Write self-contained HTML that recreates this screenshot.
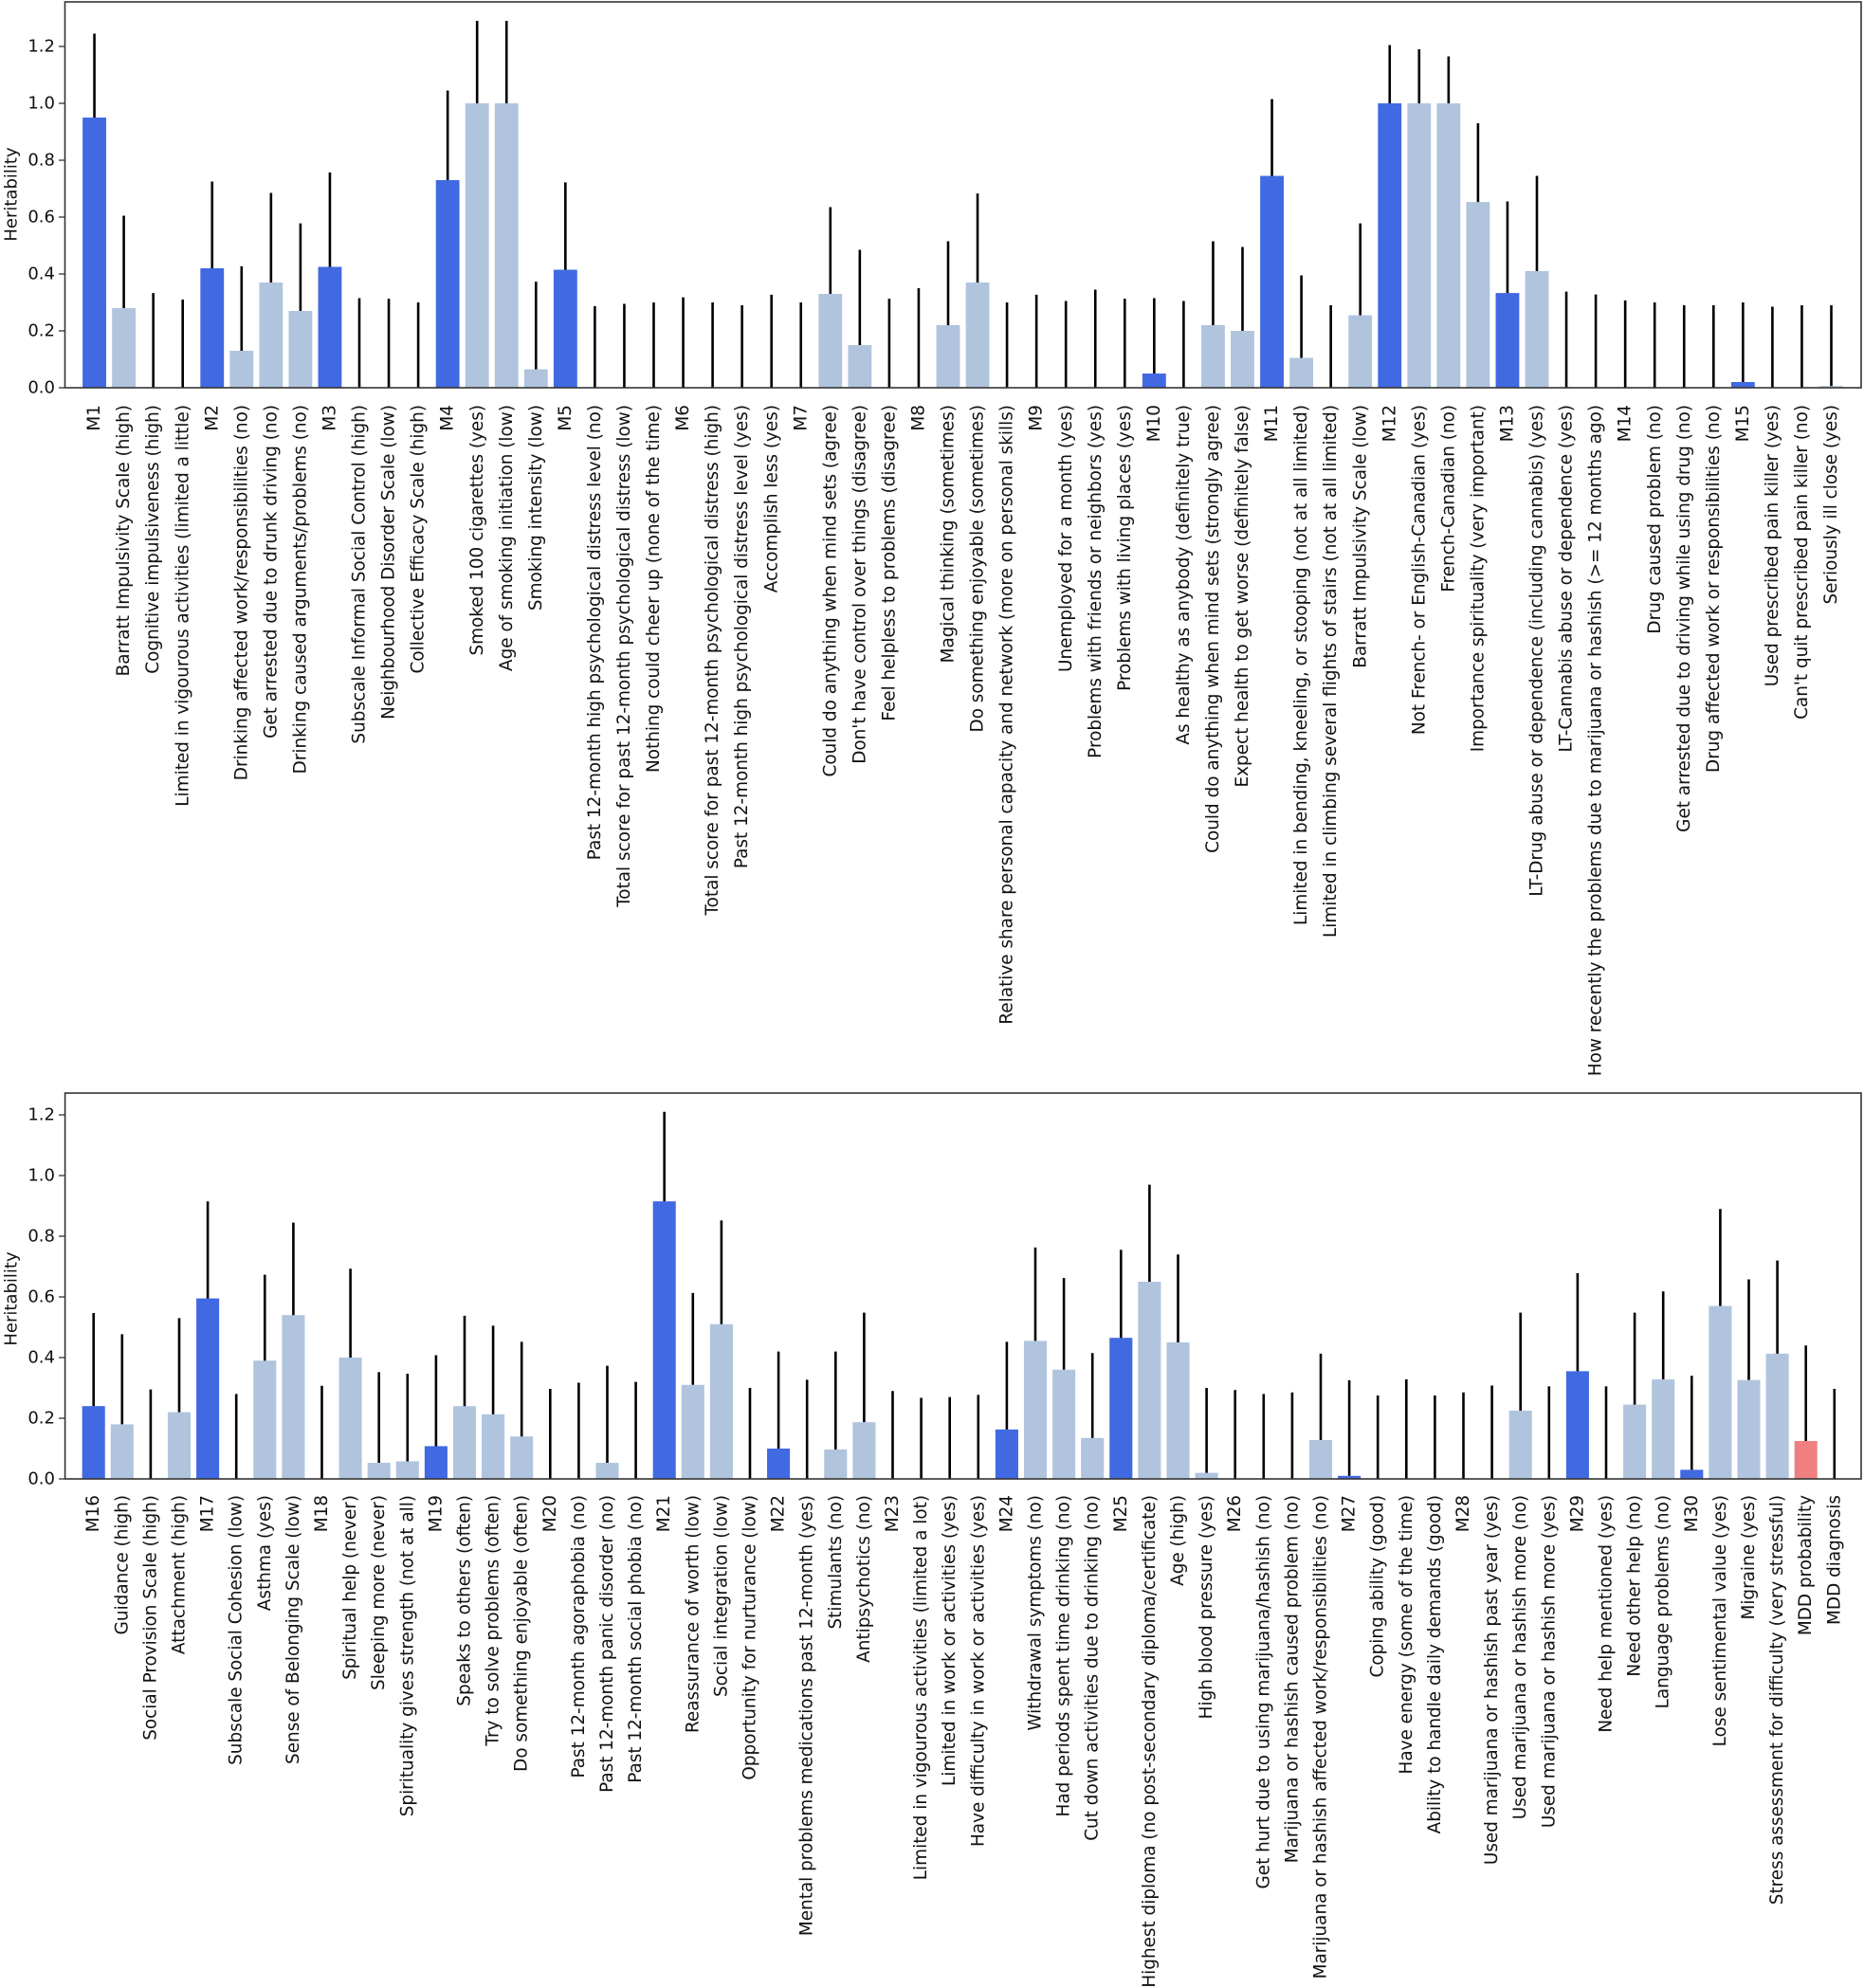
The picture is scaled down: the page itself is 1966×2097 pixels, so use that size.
<!DOCTYPE html>
<html><head><meta charset="utf-8"><style>
html,body{margin:0;padding:0;background:#fff;}
svg{display:block;}
text{font-family:"DejaVu Sans","Liberation Sans",sans-serif;fill:#111;}
.lbl{font-size:18.4px;}
.tk{font-size:18px;}
line.e{stroke:#000;stroke-width:2.6;vector-effect:non-scaling-stroke;}
.d{fill:#4169e1;}.l{fill:#b0c4de;}.r{fill:#f08080;}
</style></head><body>
<svg width="1966" height="2097" viewBox="0 0 1966 2097" xmlns="http://www.w3.org/2000/svg">
<rect width="1966" height="2097" fill="#fff"/>

<!-- ============ TOP PLOT ============ -->
<g transform="translate(68.5,409) scale(31.05,-300)">
<rect class="d" x="0.6" y="0" width="0.8" height="0.95"/>
<rect class="l" x="1.6" y="0" width="0.8" height="0.28"/>
<rect class="d" x="4.6" y="0" width="0.8" height="0.42"/>
<rect class="l" x="5.6" y="0" width="0.8" height="0.13"/>
<rect class="l" x="6.6" y="0" width="0.8" height="0.37"/>
<rect class="l" x="7.6" y="0" width="0.8" height="0.27"/>
<rect class="d" x="8.6" y="0" width="0.8" height="0.425"/>
<rect class="d" x="12.6" y="0" width="0.8" height="0.73"/>
<rect class="l" x="13.6" y="0" width="0.8" height="1.0"/>
<rect class="l" x="14.6" y="0" width="0.8" height="1.0"/>
<rect class="l" x="15.6" y="0" width="0.8" height="0.065"/>
<rect class="d" x="16.6" y="0" width="0.8" height="0.415"/>
<rect class="l" x="25.6" y="0" width="0.8" height="0.33"/>
<rect class="l" x="26.6" y="0" width="0.8" height="0.15"/>
<rect class="l" x="29.6" y="0" width="0.8" height="0.22"/>
<rect class="l" x="30.6" y="0" width="0.8" height="0.37"/>
<rect class="d" x="36.6" y="0" width="0.8" height="0.05"/>
<rect class="l" x="38.6" y="0" width="0.8" height="0.22"/>
<rect class="l" x="39.6" y="0" width="0.8" height="0.20"/>
<rect class="d" x="40.6" y="0" width="0.8" height="0.745"/>
<rect class="l" x="41.6" y="0" width="0.8" height="0.105"/>
<rect class="l" x="43.6" y="0" width="0.8" height="0.255"/>
<rect class="d" x="44.6" y="0" width="0.8" height="1.0"/>
<rect class="l" x="45.6" y="0" width="0.8" height="1.0"/>
<rect class="l" x="46.6" y="0" width="0.8" height="1.0"/>
<rect class="l" x="47.6" y="0" width="0.8" height="0.653"/>
<rect class="d" x="48.6" y="0" width="0.8" height="0.333"/>
<rect class="l" x="49.6" y="0" width="0.8" height="0.41"/>
<rect class="d" x="56.6" y="0" width="0.8" height="0.02"/>
<rect class="l" x="59.6" y="0" width="0.8" height="0.006"/>
<line class="e" x1="1" x2="1" y1="0.95" y2="1.245"/>
<line class="e" x1="2" x2="2" y1="0.28" y2="0.605"/>
<line class="e" x1="3" x2="3" y1="0" y2="0.333"/>
<line class="e" x1="4" x2="4" y1="0" y2="0.31"/>
<line class="e" x1="5" x2="5" y1="0.42" y2="0.725"/>
<line class="e" x1="6" x2="6" y1="0.13" y2="0.427"/>
<line class="e" x1="7" x2="7" y1="0.37" y2="0.685"/>
<line class="e" x1="8" x2="8" y1="0.27" y2="0.578"/>
<line class="e" x1="9" x2="9" y1="0.425" y2="0.757"/>
<line class="e" x1="10" x2="10" y1="0" y2="0.315"/>
<line class="e" x1="11" x2="11" y1="0" y2="0.313"/>
<line class="e" x1="12" x2="12" y1="0" y2="0.30"/>
<line class="e" x1="13" x2="13" y1="0.73" y2="1.045"/>
<line class="e" x1="14" x2="14" y1="1.0" y2="1.29"/>
<line class="e" x1="15" x2="15" y1="1.0" y2="1.29"/>
<line class="e" x1="16" x2="16" y1="0.065" y2="0.373"/>
<line class="e" x1="17" x2="17" y1="0.415" y2="0.722"/>
<line class="e" x1="18" x2="18" y1="0" y2="0.287"/>
<line class="e" x1="19" x2="19" y1="0" y2="0.295"/>
<line class="e" x1="20" x2="20" y1="0" y2="0.30"/>
<line class="e" x1="21" x2="21" y1="0" y2="0.318"/>
<line class="e" x1="22" x2="22" y1="0" y2="0.30"/>
<line class="e" x1="23" x2="23" y1="0" y2="0.29"/>
<line class="e" x1="24" x2="24" y1="0" y2="0.327"/>
<line class="e" x1="25" x2="25" y1="0" y2="0.30"/>
<line class="e" x1="26" x2="26" y1="0.33" y2="0.635"/>
<line class="e" x1="27" x2="27" y1="0.15" y2="0.485"/>
<line class="e" x1="28" x2="28" y1="0" y2="0.313"/>
<line class="e" x1="29" x2="29" y1="0" y2="0.35"/>
<line class="e" x1="30" x2="30" y1="0.22" y2="0.515"/>
<line class="e" x1="31" x2="31" y1="0.37" y2="0.683"/>
<line class="e" x1="32" x2="32" y1="0" y2="0.30"/>
<line class="e" x1="33" x2="33" y1="0" y2="0.327"/>
<line class="e" x1="34" x2="34" y1="0" y2="0.305"/>
<line class="e" x1="35" x2="35" y1="0" y2="0.345"/>
<line class="e" x1="36" x2="36" y1="0" y2="0.313"/>
<line class="e" x1="37" x2="37" y1="0.05" y2="0.315"/>
<line class="e" x1="38" x2="38" y1="0" y2="0.305"/>
<line class="e" x1="39" x2="39" y1="0.22" y2="0.515"/>
<line class="e" x1="40" x2="40" y1="0.20" y2="0.495"/>
<line class="e" x1="41" x2="41" y1="0.745" y2="1.015"/>
<line class="e" x1="42" x2="42" y1="0.105" y2="0.395"/>
<line class="e" x1="43" x2="43" y1="0" y2="0.29"/>
<line class="e" x1="44" x2="44" y1="0.255" y2="0.578"/>
<line class="e" x1="45" x2="45" y1="1.0" y2="1.205"/>
<line class="e" x1="46" x2="46" y1="1.0" y2="1.19"/>
<line class="e" x1="47" x2="47" y1="1.0" y2="1.165"/>
<line class="e" x1="48" x2="48" y1="0.653" y2="0.93"/>
<line class="e" x1="49" x2="49" y1="0.333" y2="0.655"/>
<line class="e" x1="50" x2="50" y1="0.41" y2="0.745"/>
<line class="e" x1="51" x2="51" y1="0" y2="0.338"/>
<line class="e" x1="52" x2="52" y1="0" y2="0.328"/>
<line class="e" x1="53" x2="53" y1="0" y2="0.307"/>
<line class="e" x1="54" x2="54" y1="0" y2="0.30"/>
<line class="e" x1="55" x2="55" y1="0" y2="0.29"/>
<line class="e" x1="56" x2="56" y1="0" y2="0.29"/>
<line class="e" x1="57" x2="57" y1="0.02" y2="0.30"/>
<line class="e" x1="58" x2="58" y1="0" y2="0.285"/>
<line class="e" x1="59" x2="59" y1="0" y2="0.29"/>
<line class="e" x1="60" x2="60" y1="0.006" y2="0.29"/>
</g>
<rect x="68.5" y="2" width="1894.5" height="407" fill="none" stroke="#333" stroke-width="1.6"/>
<g stroke="#333" stroke-width="1.3">
<line x1="62" x2="68" y1="409" y2="409"/><line x1="62" x2="68" y1="349" y2="349"/><line x1="62" x2="68" y1="289" y2="289"/><line x1="62" x2="68" y1="229" y2="229"/><line x1="62" x2="68" y1="169" y2="169"/><line x1="62" x2="68" y1="109" y2="109"/><line x1="62" x2="68" y1="49" y2="49"/>
</g>
<g class="tk" text-anchor="end" dominant-baseline="central">
<text x="58" y="409">0.0</text><text x="58" y="349">0.2</text><text x="58" y="289">0.4</text><text x="58" y="229">0.6</text><text x="58" y="169">0.8</text><text x="58" y="109">1.0</text><text x="58" y="49">1.2</text>
</g>
<text class="tk" transform="translate(12,205) rotate(-90)" text-anchor="middle" dominant-baseline="central">Heritability</text>
<g class="lbl" text-anchor="end" dominant-baseline="central">
<text transform="translate(99.6,427) rotate(-90)">M1</text>
<text transform="translate(130.7,427) rotate(-90)">Barratt Impulsivity Scale (high)</text>
<text transform="translate(161.7,427) rotate(-90)">Cognitive impulsiveness (high)</text>
<text transform="translate(192.8,427) rotate(-90)">Limited in vigourous activities (limited a little)</text>
<text transform="translate(223.8,427) rotate(-90)">M2</text>
<text transform="translate(254.9,427) rotate(-90)">Drinking affected work/responsibilities (no)</text>
<text transform="translate(285.9,427) rotate(-90)">Get arrested due to drunk driving (no)</text>
<text transform="translate(317,427) rotate(-90)">Drinking caused arguments/problems (no)</text>
<text transform="translate(348,427) rotate(-90)">M3</text>
<text transform="translate(379.1,427) rotate(-90)">Subscale Informal Social Control (high)</text>
<text transform="translate(410.1,427) rotate(-90)">Neighbourhood Disorder Scale (low)</text>
<text transform="translate(441.2,427) rotate(-90)">Collective Efficacy Scale (high)</text>
<text transform="translate(472.2,427) rotate(-90)">M4</text>
<text transform="translate(503.3,427) rotate(-90)">Smoked 100 cigarettes (yes)</text>
<text transform="translate(534.3,427) rotate(-90)">Age of smoking initiation (low)</text>
<text transform="translate(565.4,427) rotate(-90)">Smoking intensity (low)</text>
<text transform="translate(596.4,427) rotate(-90)">M5</text>
<text transform="translate(627.5,427) rotate(-90)">Past 12-month high psychological distress level (no)</text>
<text transform="translate(658.5,427) rotate(-90)">Total score for past 12-month psychological distress (low)</text>
<text transform="translate(689.6,427) rotate(-90)">Nothing could cheer up (none of the time)</text>
<text transform="translate(720.6,427) rotate(-90)">M6</text>
<text transform="translate(751.7,427) rotate(-90)">Total score for past 12-month psychological distress (high)</text>
<text transform="translate(782.7,427) rotate(-90)">Past 12-month high psychological distress level (yes)</text>
<text transform="translate(813.8,427) rotate(-90)">Accomplish less (yes)</text>
<text transform="translate(844.8,427) rotate(-90)">M7</text>
<text transform="translate(875.9,427) rotate(-90)">Could do anything when mind sets (agree)</text>
<text transform="translate(906.9,427) rotate(-90)">Don't have control over  things (disagree)</text>
<text transform="translate(938,427) rotate(-90)">Feel helpless to problems (disagree)</text>
<text transform="translate(969,427) rotate(-90)">M8</text>
<text transform="translate(1000.1,427) rotate(-90)">Magical thinking (sometimes)</text>
<text transform="translate(1031.1,427) rotate(-90)">Do something enjoyable (sometimes)</text>
<text transform="translate(1062.2,427) rotate(-90)">Relative share personal capacity and network (more on personal skills)</text>
<text transform="translate(1093.2,427) rotate(-90)">M9</text>
<text transform="translate(1124.3,427) rotate(-90)">Unemployed for a month (yes)</text>
<text transform="translate(1155.3,427) rotate(-90)">Problems with friends or neighbors (yes)</text>
<text transform="translate(1186.4,427) rotate(-90)">Problems with living places (yes)</text>
<text transform="translate(1217.4,427) rotate(-90)">M10</text>
<text transform="translate(1248.5,427) rotate(-90)">As healthy as anybody (definitely true)</text>
<text transform="translate(1279.5,427) rotate(-90)">Could do anything when mind sets (strongly agree)</text>
<text transform="translate(1310.6,427) rotate(-90)">Expect health to get worse (definitely false)</text>
<text transform="translate(1341.6,427) rotate(-90)">M11</text>
<text transform="translate(1372.7,427) rotate(-90)">Limited in bending, kneeling, or stooping (not at all limited)</text>
<text transform="translate(1403.7,427) rotate(-90)">Limited in climbing several flights of stairs (not at all limited)</text>
<text transform="translate(1434.8,427) rotate(-90)">Barratt Impulsivity Scale (low)</text>
<text transform="translate(1465.8,427) rotate(-90)">M12</text>
<text transform="translate(1496.9,427) rotate(-90)">Not French- or English-Canadian (yes)</text>
<text transform="translate(1527.9,427) rotate(-90)">French-Canadian (no)</text>
<text transform="translate(1559,427) rotate(-90)">Importance spirituality (very important)</text>
<text transform="translate(1590,427) rotate(-90)">M13</text>
<text transform="translate(1621.1,427) rotate(-90)">LT-Drug abuse or dependence (including cannabis) (yes)</text>
<text transform="translate(1652.1,427) rotate(-90)">LT-Cannabis abuse or dependence (yes)</text>
<text transform="translate(1683.2,427) rotate(-90)">How recently the problems due to marijuana or hashish (&gt;= 12 months ago)</text>
<text transform="translate(1714.2,427) rotate(-90)">M14</text>
<text transform="translate(1745.3,427) rotate(-90)">Drug caused problem (no)</text>
<text transform="translate(1776.3,427) rotate(-90)">Get arrested due to driving while using drug (no)</text>
<text transform="translate(1807.4,427) rotate(-90)">Drug affected work or responsibilities (no)</text>
<text transform="translate(1838.4,427) rotate(-90)">M15</text>
<text transform="translate(1869.5,427) rotate(-90)">Used prescribed pain killer (yes)</text>
<text transform="translate(1900.5,427) rotate(-90)">Can't quit prescribed pain killer (no)</text>
<text transform="translate(1931.6,427) rotate(-90)">Seriously ill close (yes)</text>
</g>

<!-- ============ BOTTOM PLOT ============ -->
<g transform="translate(68.6,1560) scale(30.1,-320)">
<rect class="d" x="0.6" y="0" width="0.8" height="0.24"/>
<rect class="l" x="1.6" y="0" width="0.8" height="0.18"/>
<rect class="l" x="3.6" y="0" width="0.8" height="0.22"/>
<rect class="d" x="4.6" y="0" width="0.8" height="0.595"/>
<rect class="l" x="6.6" y="0" width="0.8" height="0.39"/>
<rect class="l" x="7.6" y="0" width="0.8" height="0.54"/>
<rect class="l" x="9.6" y="0" width="0.8" height="0.40"/>
<rect class="l" x="10.6" y="0" width="0.8" height="0.053"/>
<rect class="l" x="11.6" y="0" width="0.8" height="0.058"/>
<rect class="d" x="12.6" y="0" width="0.8" height="0.108"/>
<rect class="l" x="13.6" y="0" width="0.8" height="0.24"/>
<rect class="l" x="14.6" y="0" width="0.8" height="0.213"/>
<rect class="l" x="15.6" y="0" width="0.8" height="0.14"/>
<rect class="l" x="18.6" y="0" width="0.8" height="0.053"/>
<rect class="d" x="20.6" y="0" width="0.8" height="0.915"/>
<rect class="l" x="21.6" y="0" width="0.8" height="0.31"/>
<rect class="l" x="22.6" y="0" width="0.8" height="0.51"/>
<rect class="d" x="24.6" y="0" width="0.8" height="0.10"/>
<rect class="l" x="26.6" y="0" width="0.8" height="0.097"/>
<rect class="l" x="27.6" y="0" width="0.8" height="0.187"/>
<rect class="d" x="32.6" y="0" width="0.8" height="0.163"/>
<rect class="l" x="33.6" y="0" width="0.8" height="0.455"/>
<rect class="l" x="34.6" y="0" width="0.8" height="0.36"/>
<rect class="l" x="35.6" y="0" width="0.8" height="0.135"/>
<rect class="d" x="36.6" y="0" width="0.8" height="0.465"/>
<rect class="l" x="37.6" y="0" width="0.8" height="0.65"/>
<rect class="l" x="38.6" y="0" width="0.8" height="0.45"/>
<rect class="l" x="39.6" y="0" width="0.8" height="0.02"/>
<rect class="l" x="43.6" y="0" width="0.8" height="0.128"/>
<rect class="d" x="44.6" y="0" width="0.8" height="0.01"/>
<rect class="l" x="50.6" y="0" width="0.8" height="0.225"/>
<rect class="d" x="52.6" y="0" width="0.8" height="0.355"/>
<rect class="l" x="54.6" y="0" width="0.8" height="0.245"/>
<rect class="l" x="55.6" y="0" width="0.8" height="0.328"/>
<rect class="d" x="56.6" y="0" width="0.8" height="0.03"/>
<rect class="l" x="57.6" y="0" width="0.8" height="0.57"/>
<rect class="l" x="58.6" y="0" width="0.8" height="0.326"/>
<rect class="l" x="59.6" y="0" width="0.8" height="0.413"/>
<rect class="r" x="60.6" y="0" width="0.8" height="0.125"/>
<line class="e" x1="1" x2="1" y1="0.24" y2="0.547"/>
<line class="e" x1="2" x2="2" y1="0.18" y2="0.477"/>
<line class="e" x1="3" x2="3" y1="0" y2="0.295"/>
<line class="e" x1="4" x2="4" y1="0.22" y2="0.53"/>
<line class="e" x1="5" x2="5" y1="0.595" y2="0.915"/>
<line class="e" x1="6" x2="6" y1="0" y2="0.28"/>
<line class="e" x1="7" x2="7" y1="0.39" y2="0.673"/>
<line class="e" x1="8" x2="8" y1="0.54" y2="0.845"/>
<line class="e" x1="9" x2="9" y1="0" y2="0.307"/>
<line class="e" x1="10" x2="10" y1="0.40" y2="0.693"/>
<line class="e" x1="11" x2="11" y1="0.053" y2="0.352"/>
<line class="e" x1="12" x2="12" y1="0.058" y2="0.347"/>
<line class="e" x1="13" x2="13" y1="0.108" y2="0.408"/>
<line class="e" x1="14" x2="14" y1="0.24" y2="0.538"/>
<line class="e" x1="15" x2="15" y1="0.213" y2="0.505"/>
<line class="e" x1="16" x2="16" y1="0.14" y2="0.452"/>
<line class="e" x1="17" x2="17" y1="0" y2="0.297"/>
<line class="e" x1="18" x2="18" y1="0" y2="0.317"/>
<line class="e" x1="19" x2="19" y1="0.053" y2="0.373"/>
<line class="e" x1="20" x2="20" y1="0" y2="0.32"/>
<line class="e" x1="21" x2="21" y1="0.915" y2="1.21"/>
<line class="e" x1="22" x2="22" y1="0.31" y2="0.613"/>
<line class="e" x1="23" x2="23" y1="0.51" y2="0.852"/>
<line class="e" x1="24" x2="24" y1="0" y2="0.30"/>
<line class="e" x1="25" x2="25" y1="0.10" y2="0.42"/>
<line class="e" x1="26" x2="26" y1="0" y2="0.327"/>
<line class="e" x1="27" x2="27" y1="0.097" y2="0.42"/>
<line class="e" x1="28" x2="28" y1="0.187" y2="0.548"/>
<line class="e" x1="29" x2="29" y1="0" y2="0.29"/>
<line class="e" x1="30" x2="30" y1="0" y2="0.267"/>
<line class="e" x1="31" x2="31" y1="0" y2="0.27"/>
<line class="e" x1="32" x2="32" y1="0" y2="0.277"/>
<line class="e" x1="33" x2="33" y1="0.163" y2="0.452"/>
<line class="e" x1="34" x2="34" y1="0.455" y2="0.763"/>
<line class="e" x1="35" x2="35" y1="0.36" y2="0.662"/>
<line class="e" x1="36" x2="36" y1="0.135" y2="0.415"/>
<line class="e" x1="37" x2="37" y1="0.465" y2="0.755"/>
<line class="e" x1="38" x2="38" y1="0.65" y2="0.97"/>
<line class="e" x1="39" x2="39" y1="0.45" y2="0.74"/>
<line class="e" x1="40" x2="40" y1="0.02" y2="0.30"/>
<line class="e" x1="41" x2="41" y1="0" y2="0.293"/>
<line class="e" x1="42" x2="42" y1="0" y2="0.28"/>
<line class="e" x1="43" x2="43" y1="0" y2="0.285"/>
<line class="e" x1="44" x2="44" y1="0.128" y2="0.413"/>
<line class="e" x1="45" x2="45" y1="0.01" y2="0.325"/>
<line class="e" x1="46" x2="46" y1="0" y2="0.275"/>
<line class="e" x1="47" x2="47" y1="0" y2="0.328"/>
<line class="e" x1="48" x2="48" y1="0" y2="0.275"/>
<line class="e" x1="49" x2="49" y1="0" y2="0.285"/>
<line class="e" x1="50" x2="50" y1="0" y2="0.308"/>
<line class="e" x1="51" x2="51" y1="0.225" y2="0.548"/>
<line class="e" x1="52" x2="52" y1="0" y2="0.305"/>
<line class="e" x1="53" x2="53" y1="0.355" y2="0.678"/>
<line class="e" x1="54" x2="54" y1="0" y2="0.305"/>
<line class="e" x1="55" x2="55" y1="0.245" y2="0.548"/>
<line class="e" x1="56" x2="56" y1="0.328" y2="0.618"/>
<line class="e" x1="57" x2="57" y1="0.03" y2="0.34"/>
<line class="e" x1="58" x2="58" y1="0.57" y2="0.89"/>
<line class="e" x1="59" x2="59" y1="0.326" y2="0.658"/>
<line class="e" x1="60" x2="60" y1="0.413" y2="0.72"/>
<line class="e" x1="61" x2="61" y1="0.125" y2="0.44"/>
<line class="e" x1="62" x2="62" y1="0" y2="0.297"/>
</g>
<rect x="68.6" y="1153" width="1894.4" height="407" fill="none" stroke="#333" stroke-width="1.6"/>
<g stroke="#333" stroke-width="1.3">
<line x1="62" x2="68" y1="1560" y2="1560"/><line x1="62" x2="68" y1="1496" y2="1496"/><line x1="62" x2="68" y1="1432" y2="1432"/><line x1="62" x2="68" y1="1368" y2="1368"/><line x1="62" x2="68" y1="1304" y2="1304"/><line x1="62" x2="68" y1="1240" y2="1240"/><line x1="62" x2="68" y1="1176" y2="1176"/>
</g>
<g class="tk" text-anchor="end" dominant-baseline="central">
<text x="58" y="1560">0.0</text><text x="58" y="1496">0.2</text><text x="58" y="1432">0.4</text><text x="58" y="1368">0.6</text><text x="58" y="1304">0.8</text><text x="58" y="1240">1.0</text><text x="58" y="1176">1.2</text>
</g>
<text class="tk" transform="translate(12,1370) rotate(-90)" text-anchor="middle" dominant-baseline="central">Heritability</text>
<g class="lbl" text-anchor="end" dominant-baseline="central">
<text transform="translate(98.7,1577) rotate(-90)">M16</text>
<text transform="translate(128.8,1577) rotate(-90)">Guidance (high)</text>
<text transform="translate(158.9,1577) rotate(-90)">Social Provision Scale (high)</text>
<text transform="translate(189,1577) rotate(-90)">Attachment (high)</text>
<text transform="translate(219.1,1577) rotate(-90)">M17</text>
<text transform="translate(249.2,1577) rotate(-90)">Subscale Social Cohesion (low)</text>
<text transform="translate(279.3,1577) rotate(-90)">Asthma (yes)</text>
<text transform="translate(309.4,1577) rotate(-90)">Sense of Belonging Scale (low)</text>
<text transform="translate(339.5,1577) rotate(-90)">M18</text>
<text transform="translate(369.6,1577) rotate(-90)">Spiritual help (never)</text>
<text transform="translate(399.7,1577) rotate(-90)">Sleeping more (never)</text>
<text transform="translate(429.8,1577) rotate(-90)">Spirituality gives strength (not at all)</text>
<text transform="translate(459.9,1577) rotate(-90)">M19</text>
<text transform="translate(490,1577) rotate(-90)">Speaks to others (often)</text>
<text transform="translate(520.1,1577) rotate(-90)">Try to solve problems (often)</text>
<text transform="translate(550.2,1577) rotate(-90)">Do something enjoyable (often)</text>
<text transform="translate(580.3,1577) rotate(-90)">M20</text>
<text transform="translate(610.4,1577) rotate(-90)">Past 12-month agoraphobia (no)</text>
<text transform="translate(640.5,1577) rotate(-90)">Past 12-month panic disorder (no)</text>
<text transform="translate(670.6,1577) rotate(-90)">Past 12-month social phobia (no)</text>
<text transform="translate(700.7,1577) rotate(-90)">M21</text>
<text transform="translate(730.8,1577) rotate(-90)">Reassurance of worth (low)</text>
<text transform="translate(760.9,1577) rotate(-90)">Social integration (low)</text>
<text transform="translate(791,1577) rotate(-90)">Opportunity for nurturance (low)</text>
<text transform="translate(821.1,1577) rotate(-90)">M22</text>
<text transform="translate(851.2,1577) rotate(-90)">Mental problems medications past 12-month (yes)</text>
<text transform="translate(881.3,1577) rotate(-90)">Stimulants (no)</text>
<text transform="translate(911.4,1577) rotate(-90)">Antipsychotics (no)</text>
<text transform="translate(941.5,1577) rotate(-90)">M23</text>
<text transform="translate(971.6,1577) rotate(-90)">Limited in vigourous activities (limited a lot)</text>
<text transform="translate(1001.7,1577) rotate(-90)">Limited in work or activities (yes)</text>
<text transform="translate(1031.8,1577) rotate(-90)">Have difficulty in work or activities (yes)</text>
<text transform="translate(1061.9,1577) rotate(-90)">M24</text>
<text transform="translate(1092,1577) rotate(-90)">Withdrawal symptoms (no)</text>
<text transform="translate(1122.1,1577) rotate(-90)">Had periods spent time drinking (no)</text>
<text transform="translate(1152.2,1577) rotate(-90)">Cut down activities due to drinking (no)</text>
<text transform="translate(1182.3,1577) rotate(-90)">M25</text>
<text transform="translate(1212.4,1577) rotate(-90)">Highest diploma (no post-secondary diploma/certificate)</text>
<text transform="translate(1242.5,1577) rotate(-90)">Age (high)</text>
<text transform="translate(1272.6,1577) rotate(-90)">High blood pressure (yes)</text>
<text transform="translate(1302.7,1577) rotate(-90)">M26</text>
<text transform="translate(1332.8,1577) rotate(-90)">Get hurt due to using marijuana/hashish (no)</text>
<text transform="translate(1362.9,1577) rotate(-90)">Marijuana or hashish caused problem (no)</text>
<text transform="translate(1393,1577) rotate(-90)">Marijuana or hashish affected work/responsibilities (no)</text>
<text transform="translate(1423.1,1577) rotate(-90)">M27</text>
<text transform="translate(1453.2,1577) rotate(-90)">Coping ability (good)</text>
<text transform="translate(1483.3,1577) rotate(-90)">Have energy (some of the time)</text>
<text transform="translate(1513.4,1577) rotate(-90)">Ability to handle daily demands (good)</text>
<text transform="translate(1543.5,1577) rotate(-90)">M28</text>
<text transform="translate(1573.6,1577) rotate(-90)">Used marijuana or hashish past year (yes)</text>
<text transform="translate(1603.7,1577) rotate(-90)">Used marijuana or hashish more (no)</text>
<text transform="translate(1633.8,1577) rotate(-90)">Used marijuana or hashish more (yes)</text>
<text transform="translate(1663.9,1577) rotate(-90)">M29</text>
<text transform="translate(1694,1577) rotate(-90)">Need help mentioned (yes)</text>
<text transform="translate(1724.1,1577) rotate(-90)">Need other help (no)</text>
<text transform="translate(1754.2,1577) rotate(-90)">Language problems (no)</text>
<text transform="translate(1784.3,1577) rotate(-90)">M30</text>
<text transform="translate(1814.4,1577) rotate(-90)">Lose sentimental value (yes)</text>
<text transform="translate(1844.5,1577) rotate(-90)">Migraine (yes)</text>
<text transform="translate(1874.6,1577) rotate(-90)">Stress assessment for difficulty (very stressful)</text>
<text transform="translate(1904.7,1577) rotate(-90)">MDD probability</text>
<text transform="translate(1934.8,1577) rotate(-90)">MDD diagnosis</text>
</g>
</svg>
</body></html>
